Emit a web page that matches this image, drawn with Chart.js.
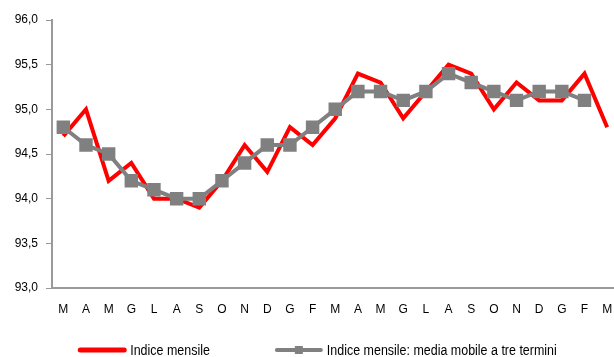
<!DOCTYPE html>
<html>
<head>
<meta charset="utf-8">
<script src="https://cdn.jsdelivr.net/npm/chart.js@4/dist/chart.umd.min.js"></script>
<style>
  html, body { margin: 0; padding: 0; background: #fff; overflow: hidden; }
  #wrap { width: 628px; height: 357px; }
</style>
</head>
<body>
<div id="wrap"><canvas id="c" width="628" height="357"></canvas></div>
<script>
// Monthly labels (Italian initials)
const months = ['M','A','M','G','L','A','S','O','N','D','G','F','M','A','M','G','L','A','S','O','N','D','G','F','M'];

// Monthly index
const monthlyIndex = [94.7, 95.0, 94.2, 94.4, 94.0, 94.0, 93.9, 94.2, 94.6, 94.3, 94.8, 94.6, 94.9,
                      95.4, 95.3, 94.9, 95.2, 95.5, 95.4, 95.0, 95.3, 95.1, 95.1, 95.4, 94.8];

// Three-term moving average
const movingAverage = [94.8, 94.6, 94.5, 94.2, 94.1, 94.0, 94.0, 94.2, 94.4, 94.6, 94.6, 94.8, 95.0,
                       95.2, 95.2, 95.1, 95.2, 95.4, 95.3, 95.2, 95.1, 95.2, 95.2, 95.1, null];

const yTicks = [93.0, 93.5, 94.0, 94.5, 95.0, 95.5, 96.0];

const seriesNames = ['Indice mensile', 'Indice mensile: media mobile a tre termini'];

const RED = '#ff0000';
const GREY = '#808080';
const AXIS = '#9a9a9a';

// Legend drawn under the axis labels: a line sample for each series,
// text in a condensed face (regular sans squeezed horizontally)
const bottomLegend = {
  id: 'bottomLegend',
  afterDraw(chart) {
    const ctx = chart.ctx;
    ctx.save();
    ctx.font = '14px "Liberation Sans", Arial, sans-serif';
    ctx.textBaseline = 'middle';
    ctx.textAlign = 'left';
    const squeeze = 0.89;
    const y = 350;
    const sample = 48, gapText = 4, gapItems = 65;
    const widths = seriesNames.map(n => sample + gapText + ctx.measureText(n).width * squeeze);
    let x = 317.5 - (widths[0] + gapItems + widths[1]) / 2;
    chart.data.datasets.forEach((ds, i) => {
      ctx.strokeStyle = ds.borderColor;
      ctx.lineWidth = i === 0 ? 5 : 4;
      ctx.lineCap = 'round';
      ctx.beginPath();
      ctx.moveTo(x + 2, y);
      ctx.lineTo(x + sample - 2, y);
      ctx.stroke();
      if (ds.pointRadius > 0) {
        ctx.fillStyle = ds.pointBackgroundColor;
        ctx.fillRect(x + sample / 2 - 4, y - 4, 8, 8);
      }
      ctx.save();
      ctx.translate(x + sample + gapText, y + 1);
      ctx.scale(squeeze, 1);
      ctx.fillStyle = '#000';
      ctx.fillText(seriesNames[i], 0, 0);
      ctx.restore();
      x += widths[i] + gapItems;
    });
    ctx.restore();
  }
};

new Chart(document.getElementById('c'), {
  type: 'line',
  data: {
    labels: months,
    datasets: [
      {
        label: seriesNames[0],
        data: monthlyIndex,
        borderColor: RED,
        backgroundColor: RED,
        borderWidth: 4,
        pointRadius: 0,
        tension: 0,
        order: 1
      },
      {
        label: seriesNames[1],
        data: movingAverage,
        borderColor: GREY,
        backgroundColor: GREY,
        pointBackgroundColor: GREY,
        pointBorderColor: GREY,
        borderWidth: 4,
        pointStyle: 'rect',
        pointRadius: 9.5,
        pointBorderWidth: 0,
        tension: 0,
        order: 0
      }
    ]
  },
  options: {
    responsive: false,
    animation: false,
    layout: { padding: { top: 20, right: 3, left: 0, bottom: 0 } },
    plugins: { legend: { display: false }, tooltip: { enabled: false } },
    scales: {
      x: {
        offset: true,
        grid: { drawOnChartArea: false, drawTicks: true, tickLength: 11, color: 'rgba(0,0,0,0)' },
        border: { color: AXIS, width: 2 },
        ticks: {
          color: '#000',
          padding: 3,
          font: { family: '"Liberation Sans", Arial, sans-serif', size: 12 },
          maxRotation: 0,
          autoSkip: false
        },
        afterFit(scale) { scale.height = 69; }
      },
      y: {
        min: 93,
        max: 96,
        grid: { drawOnChartArea: false, drawTicks: true, tickLength: 6, color: AXIS, lineWidth: 1 },
        border: { color: AXIS, width: 2 },
        afterBuildTicks(scale) { scale.ticks = yTicks.map(v => ({ value: v })); },
        ticks: {
          color: '#000',
          padding: 8,
          font: { family: '"Liberation Sans", Arial, sans-serif', size: 12 },
          callback: v => v.toFixed(1).replace('.', ',')
        },
        afterFit(scale) { scale.width = 52; }
      }
    }
  },
  plugins: [bottomLegend]
});
</script>
</body>
</html>
